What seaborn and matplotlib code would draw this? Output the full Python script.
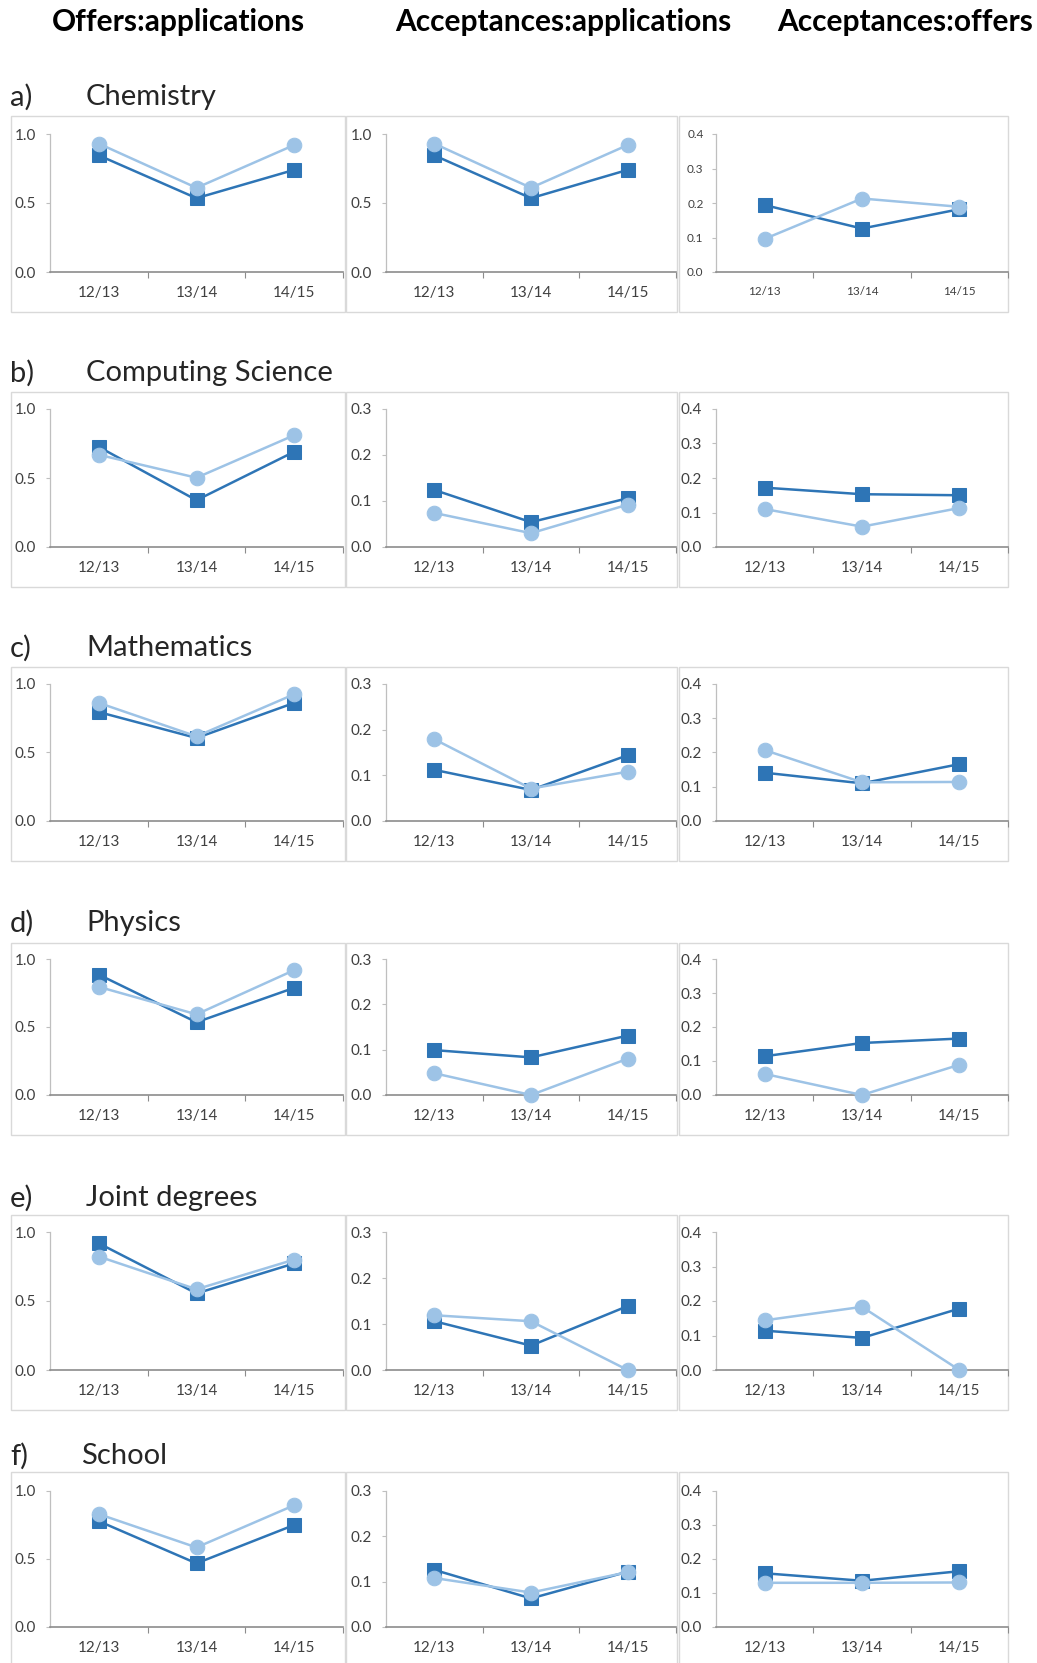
import numpy as np
import pandas as pd
import matplotlib
matplotlib.use("Agg")
import matplotlib.pyplot as plt
from matplotlib.patches import Rectangle
import seaborn as sns

sns.set_theme(style="white")
plt.rcParams["font.family"] = ["Lato", "DejaVu Sans"]

# ---- data -------------------------------------------------------------
years = ["12/13", "13/14", "14/15"]
subjects = ["Chemistry", "Computing Science", "Mathematics", "Physics",
            "Joint degrees", "School"]
row_tags = ["a)", "b)", "c)", "d)", "e)", "f)"]
col_titles = ["Offers:applications", "Acceptances:applications",
              "Acceptances:offers"]

# dark blue squares
off_app_sq = [[0.845, 0.535, 0.740], [0.725, 0.339, 0.690], [0.795, 0.606, 0.862],
              [0.885, 0.535, 0.788], [0.918, 0.555, 0.772], [0.778, 0.468, 0.750]]
acc_app_sq = [[0.845, 0.535, 0.740], [0.124, 0.054, 0.106], [0.112, 0.068, 0.144],
              [0.099, 0.083, 0.131], [0.106, 0.053, 0.139], [0.126, 0.063, 0.122]]
acc_off_sq = [[0.194, 0.126, 0.182], [0.172, 0.153, 0.150], [0.141, 0.110, 0.166],
              [0.114, 0.153, 0.166], [0.114, 0.093, 0.178], [0.158, 0.136, 0.164]]
# light blue circles
off_app_ci = [[0.930, 0.610, 0.920], [0.668, 0.502, 0.810], [0.862, 0.618, 0.925],
              [0.795, 0.593, 0.918], [0.822, 0.585, 0.800], [0.830, 0.585, 0.895]]
acc_app_ci = [[0.930, 0.610, 0.920], [0.074, 0.030, 0.092], [0.179, 0.071, 0.108],
              [0.048, 0.000, 0.080], [0.119, 0.106, 0.000], [0.108, 0.076, 0.121]]
acc_off_ci = [[0.096, 0.213, 0.189], [0.110, 0.059, 0.113], [0.207, 0.113, 0.114],
              [0.062, 0.000, 0.089], [0.144, 0.183, 0.000], [0.130, 0.130, 0.131]]

# y-axis maxima per panel (row, column)
y_max = [[1.0, 1.0, 0.4]] + [[1.0, 0.3, 0.4]] * 5

# ---- layout (pixels) --------------------------------------------------
W, H = 1037, 1663
DARK = "#2E75B6"
LIGHT = "#9DC3E6"

axes_x = [(50, 343), (386, 676), (716, 1008)]
box_x = [(11, 345), (346, 677), (679, 1008)]
axes_y = [(134, 272), (409, 547), (684, 821), (959, 1095), (1232, 1370), (1491, 1627)]
box_y = [(116, 312), (392, 587), (667, 861), (943, 1135), (1215, 1410), (1472, 1700)]
tag_y = [97, 373, 648, 923, 1198, 1456]
title_x = [86, 86, 86, 86, 86, 81]
header_x = [52, 395, 777]

fig = plt.figure(figsize=(W / 100, H / 100), dpi=100)
fig.patch.set_facecolor("white")

def fx(x):
    return x / W

def fy(y):
    return 1 - y / H

for c, t in enumerate(col_titles):
    fig.text(fx(header_x[c]), fy(22), t, fontsize=21.5, fontweight="bold",
             ha="left", va="center", color="black")

series = [(off_app_sq, off_app_ci), (acc_app_sq, acc_app_ci), (acc_off_sq, acc_off_ci)]
pos = np.arange(len(years))

for r in range(len(subjects)):
    fig.text(fx(10), fy(tag_y[r]), row_tags[r], fontsize=21, ha="left", va="center")
    fig.text(fx(title_x[r]), fy(tag_y[r]), subjects[r], fontsize=21,
             ha="left", va="center")
    for c in range(3):
        bx0, bx1 = box_x[c]
        by0, by1 = box_y[r]
        fig.patches.append(Rectangle((fx(bx0), fy(by1)), (bx1 - bx0) / W,
                                     (by1 - by0) / H, transform=fig.transFigure,
                                     facecolor="none", edgecolor="#D9D9D9",
                                     linewidth=1.0, zorder=-1))
        x0, x1 = axes_x[c]
        y0, y1 = axes_y[r]
        ax = fig.add_axes([fx(x0), fy(y1), (x1 - x0) / W, (y1 - y0) / H])
        ax.set_facecolor("none")

        sq_vals, ci_vals = series[c][0][r], series[c][1][r]
        df = pd.DataFrame({"pos": np.concatenate([pos, pos]),
                           "value": sq_vals + ci_vals,
                           "group": ["sq"] * 3 + ["ci"] * 3})
        sns.lineplot(data=df[df.group == "sq"], x="pos", y="value", ax=ax,
                     color=DARK, marker="s", markersize=10, linewidth=1.8,
                     markeredgecolor=DARK, clip_on=False, zorder=3)
        sns.lineplot(data=df[df.group == "ci"], x="pos", y="value", ax=ax,
                     color=LIGHT, marker="o", markersize=10.5, linewidth=1.8,
                     markeredgecolor=LIGHT, clip_on=False, zorder=4)

        ymax = y_max[r][c]
        ax.set_ylim(0, ymax)
        step = 0.5 if ymax == 1.0 else 0.1
        ticks = np.round(np.arange(0, ymax + 1e-9, step), 2)
        ax.set_yticks(ticks)
        ax.set_yticklabels([f"{v:.1f}" for v in ticks])
        ax.set_xlim(-0.5, 2.5)
        ax.set_xticks(pos)
        ax.set_xticklabels(years)
        ax.set_xticks([0.5, 1.5, 2.5], minor=True)
        ax.set_xlabel("")
        ax.set_ylabel("")

        small = (r == 0 and c == 2)
        fs = 8.5 if small else 11
        ax.tick_params(axis="y", which="major", left=True, length=3, width=0.8,
                       color="#BFBFBF", labelsize=fs, labelcolor="#404040",
                       pad=7 if not small else 6)
        ax.tick_params(axis="x", which="major", bottom=True, length=0,
                       labelsize=fs, labelcolor="#404040", pad=10)
        ax.tick_params(axis="x", which="minor", bottom=True, length=4,
                       width=0.8, color="#8C8C8C")
        for s in ["top", "right"]:
            ax.spines[s].set_visible(False)
        ax.spines["left"].set_color("#BFBFBF")
        ax.spines["left"].set_linewidth(0.9)
        ax.spines["bottom"].set_color("#8C8C8C")
        ax.spines["bottom"].set_linewidth(1.2)
        ax.grid(False)
        leg = ax.get_legend()
        if leg is not None:
            leg.remove()

fig.savefig("out.png", dpi=100, facecolor="white")
